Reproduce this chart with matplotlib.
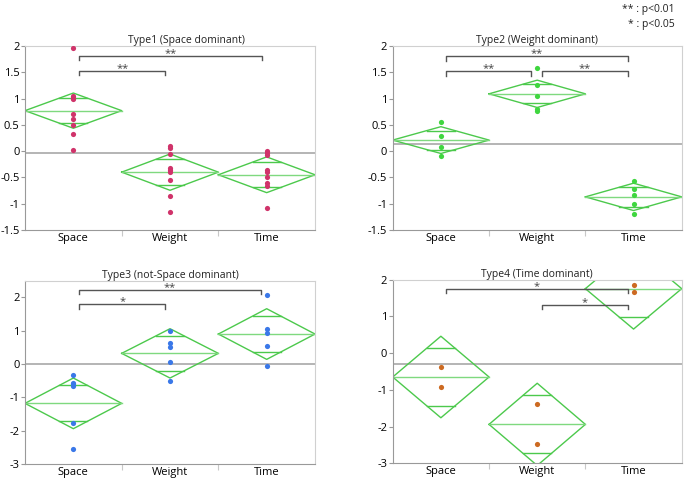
import numpy as np
import matplotlib.pyplot as plt

plt.rcParams["font.family"] = ["Open Sans", "DejaVu Sans"]

categories = ["Space", "Weight", "Time"]
titles = ["Type1 (Space dominant)", "Type2 (Weight dominant)",
          "Type3 (not-Space dominant)", "Type4 (Time dominant)"]
point_colors = ["#d0336a", "#3fd63f", "#3a78e8", "#cc6a22"]

# individual scores per type, per category
type1_points = [[1.96, 1.04, 1.01, 0.99, 0.71, 0.61, 0.49, 0.33, 0.03],
                [0.10, 0.05, -0.05, -0.33, -0.36, -0.40, -0.55, -0.85, -1.16],
                [0.01, -0.03, -0.07, -0.36, -0.39, -0.50, -0.61, -0.66, -1.09]]
type2_points = [[0.56, 0.28, 0.08, -0.09],
                [1.575, 1.26, 1.055, 0.81, 0.77],
                [-0.57, -0.72, -0.84, -1.00, -1.20]]
type3_points = [[-0.33, -0.56, -0.61, -0.66, -1.76, -2.56],
                [0.99, 0.62, 0.50, 0.05, -0.51],
                [2.07, 1.05, 0.92, 0.55, -0.05]]
type4_points = [[-0.39, -0.91],
                [-1.38, -2.47],
                [1.86, 1.66]]

# means diamonds: group means and 95% CI half widths
type_means = [[0.77, -0.40, -0.45], [0.21, 1.09, -0.87],
              [-1.18, 0.32, 0.90], [-0.65, -1.94, 1.755]]
type_ci = [[0.335, 0.345, 0.34], [0.255, 0.26, 0.26],
           [0.76, 0.74, 0.76], [1.11, 1.12, 1.10]]
grand_means = [-0.035, 0.136, 0.01, -0.29]

# significance brackets: (x start, x end, y, label)
brackets = [[(0.56, 2.45, 1.81, "**"), (0.56, 1.45, 1.53, "**")],
            [(0.55, 2.44, 1.80, "**"), (0.55, 1.44, 1.52, "**"), (1.55, 2.44, 1.52, "**")],
            [(0.56, 2.44, 2.22, "**"), (0.56, 1.45, 1.79, "*")],
            [(0.55, 2.44, 1.745, "*"), (1.55, 2.44, 1.32, "*")]]

ylims = [(-1.5, 2), (-1.5, 2), (-3, 2.5), (-3, 2)]
yticks = [np.arange(-1.5, 2.01, 0.5), np.arange(-1.5, 2.01, 0.5),
          np.arange(-3, 2.1, 1), np.arange(-3, 2.1, 1)]
ytick_labels = [["-1.5", "-1", "-0.5", "0", "0.5", "1", "1.5", "2"]] * 2 + \
               [["-3", "-2", "-1", "0", "1", "2"]] * 2
title_x = [0.555, 0.5, 0.5, 0.5]
all_points = [type1_points, type2_points, type3_points, type4_points]

fig = plt.figure(figsize=(6.85, 4.95), dpi=100)
positions = [[0.0365, 0.5354, 0.4234, 0.3717], [0.5733, 0.5354, 0.4219, 0.3717],
             [0.0365, 0.0626, 0.4234, 0.3703], [0.5733, 0.0640, 0.4219, 0.3710]]

green = "#4cc94c"
for k in range(4):
    ax = fig.add_axes(positions[k])
    lo, hi = ylims[k]
    ax.set_xlim(0, 3)
    ax.set_ylim(lo, hi)

    ax.axhline(grand_means[k], color="#a8a8a8", lw=1.2, zorder=1)

    for i in range(3):
        m = type_means[k][i]
        h = type_ci[k][i]
        xs = [i, i + 0.5, i + 1, i + 0.5, i]
        ys = [m, m + h, m, m - h, m]
        ax.plot(xs, ys, color=green, lw=1, zorder=2)
        ax.plot([i, i + 1], [m, m], color="#7fd97f", lw=1, zorder=2)
        o = h / np.sqrt(2)
        w = 0.5 * (1 - 1 / np.sqrt(2))
        for yy in [m + o, m - o]:
            ax.plot([i + 0.5 - w, i + 0.5 + w], [yy, yy], color=green, lw=1, zorder=2)
        pts = all_points[k][i]
        ax.scatter([i + 0.5] * len(pts), pts, s=14, color=point_colors[k],
                   zorder=3, linewidths=0)

    tick = 0.024 * (hi - lo)
    for x0, x1, y, lab in brackets[k]:
        ax.plot([x0, x0, x1, x1], [y - tick, y, y, y - tick], color="#555555", lw=1)
        ax.text((x0 + x1) / 2, y, lab, ha="center", va="baseline",
                fontsize=8, color="#444444")

    ax.set_title(titles[k], fontsize=7.5, pad=2, color="#222222", x=title_x[k])
    ax.set_yticks(yticks[k])
    ax.set_yticklabels(ytick_labels[k])
    ax.set_xticks([1, 2])
    ax.set_xticklabels([])
    ax.set_xticks([0.5, 1.5, 2.5], minor=True)
    ax.set_xticklabels(categories, minor=True)
    ax.tick_params(axis="x", which="minor", length=0, pad=2, labelsize=8)
    ax.tick_params(axis="x", which="major", length=4, color="#c8c8c8")
    ax.tick_params(axis="y", length=3, color="#999999", labelsize=8, pad=1)
    for s in ["top", "right"]:
        ax.spines[s].set_color("#d0d0d0")
    for s in ["left", "bottom"]:
        ax.spines[s].set_color("#999999")

fig.text(0.985, 0.992, "** : p<0.01", ha="right", va="top", fontsize=7.5, color="#222222")
fig.text(0.985, 0.962, "* : p<0.05", ha="right", va="top", fontsize=7.5, color="#222222")

fig.savefig("out.png", dpi=100)
